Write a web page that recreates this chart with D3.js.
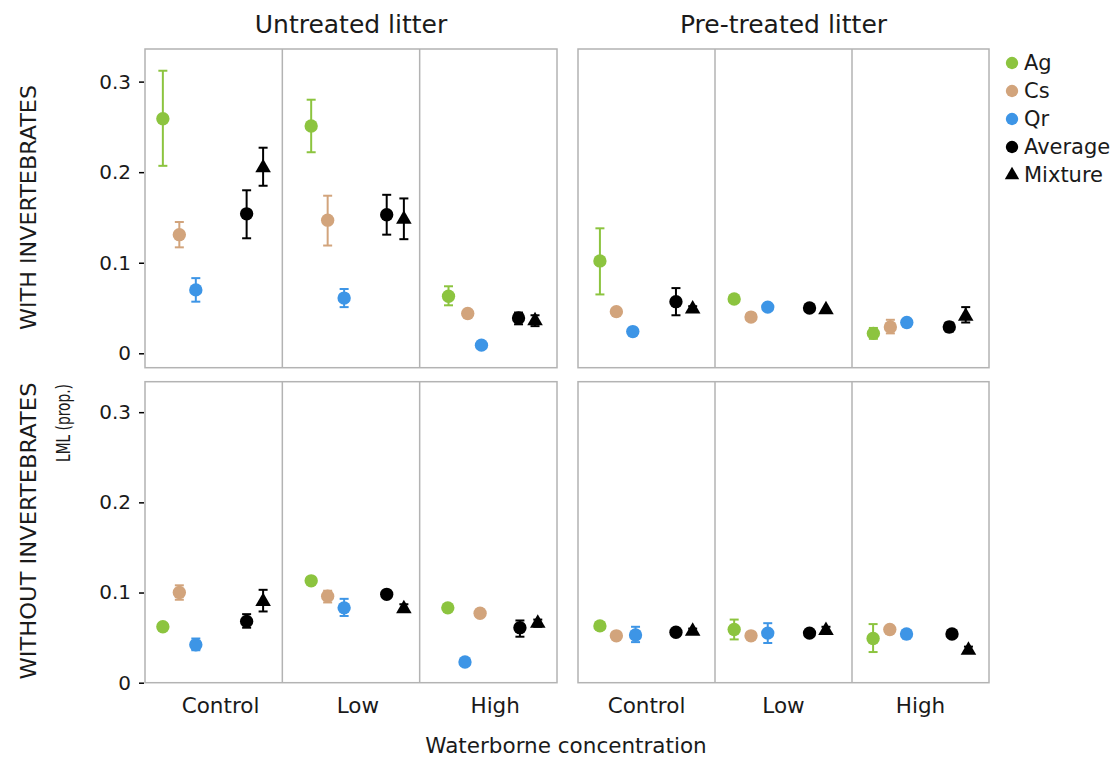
<!DOCTYPE html>
<html>
<head>
<meta charset="utf-8">
<script src="https://cdn.jsdelivr.net/npm/d3@7"></script>
<style>
  body { margin: 0; background: #fff; }
  svg { font-family: "DejaVu Sans", sans-serif; }
</style>
</head>
<body>
<svg width="1116" height="759"></svg>
<script>
// categories and series
const concentrations = ['Control', 'Low', 'High'];
const series = ['Ag', 'Cs', 'Qr', 'Average', 'Mixture'];
const litters = ['Untreated litter', 'Pre-treated litter'];
const rowsLab = ['WITH INVERTEBRATES', 'WITHOUT INVERTEBRATES'];
const yTicks = [0, 0.1, 0.2, 0.3];

// values [series][concentration]  (mean, lower, upper)
const withUntreatedMean = [[0.259, 0.251, 0.063], [0.131, 0.147, 0.044], [0.070, 0.061, 0.009], [0.154, 0.153, 0.039], [0.205, 0.148, 0.036]];
const withUntreatedLo   = [[0.207, 0.222, 0.053], [0.117, 0.119, 0.044], [0.057, 0.051, 0.009], [0.127, 0.131, 0.032], [0.185, 0.126, 0.030]];
const withUntreatedHi   = [[0.312, 0.280, 0.074], [0.145, 0.174, 0.044], [0.083, 0.071, 0.009], [0.180, 0.175, 0.045], [0.227, 0.171, 0.042]];

const withPretreatedMean = [[0.102, 0.060, 0.022], [0.046, 0.040, 0.029], [0.024, 0.051, 0.034], [0.057, 0.050, 0.029], [0.049, 0.048, 0.041]];
const withPretreatedLo   = [[0.065, 0.060, 0.016], [0.046, 0.040, 0.022], [0.024, 0.051, 0.034], [0.042, 0.050, 0.024], [0.046, 0.048, 0.034]];
const withPretreatedHi   = [[0.138, 0.060, 0.028], [0.046, 0.040, 0.037], [0.024, 0.051, 0.034], [0.072, 0.050, 0.034], [0.052, 0.048, 0.051]];

const withoutUntreatedMean = [[0.062, 0.113, 0.083], [0.100, 0.096, 0.077], [0.042, 0.083, 0.023], [0.068, 0.098, 0.061], [0.090, 0.082, 0.066]];
const withoutUntreatedLo   = [[0.062, 0.113, 0.083], [0.092, 0.089, 0.073], [0.036, 0.074, 0.023], [0.061, 0.098, 0.051], [0.079, 0.079, 0.062]];
const withoutUntreatedHi   = [[0.062, 0.113, 0.083], [0.108, 0.102, 0.081], [0.049, 0.093, 0.023], [0.076, 0.098, 0.069], [0.103, 0.087, 0.070]];

const withoutPretreatedMean = [[0.063, 0.059, 0.049], [0.052, 0.052, 0.059], [0.053, 0.055, 0.054], [0.056, 0.055, 0.054], [0.057, 0.058, 0.036]];
const withoutPretreatedLo   = [[0.059, 0.048, 0.034], [0.052, 0.052, 0.056], [0.045, 0.044, 0.049], [0.056, 0.055, 0.054], [0.054, 0.055, 0.033]];
const withoutPretreatedHi   = [[0.067, 0.070, 0.065], [0.052, 0.052, 0.062], [0.062, 0.066, 0.058], [0.056, 0.055, 0.054], [0.060, 0.062, 0.040]];

const panels = [
  { row: 0, col: 0, mean: withUntreatedMean, lo: withUntreatedLo, hi: withUntreatedHi },
  { row: 0, col: 1, mean: withPretreatedMean, lo: withPretreatedLo, hi: withPretreatedHi },
  { row: 1, col: 0, mean: withoutUntreatedMean, lo: withoutUntreatedLo, hi: withoutUntreatedHi },
  { row: 1, col: 1, mean: withoutPretreatedMean, lo: withoutPretreatedLo, hi: withoutPretreatedHi }
];

// layout
const colors = ['#8cc43f', '#d2a47c', '#3d95e6', '#000', '#000'];
const shapes = [d3.symbolCircle, d3.symbolCircle, d3.symbolCircle, d3.symbolCircle, d3.symbolTriangle];
const COLS = [[145, 557], [578, 989]];
const ROWS = [[49, 367.7], [381.7, 682.7]];
const Y_DOMAINS = [[-0.0159, 0.336], [0, 0.3338]];
const LABEL_FRAC = [0.55, 0.5];
// horizontal dodge of each series inside a concentration cell (fraction of cell)
const DODGE = [
  [[[.13, .25, .37, .74, .86], [.21, .33, .45, .76, .885], [.21, .35, .45, .72, .84]],
   [[.16, .28, .40, .715, .837], [.14, .263, .385, .69, .81], [.156, .28, .40, .71, .83]]],
  [[[.13, .25, .37, .74, .86], [.21, .33, .45, .76, .885], [.205, .44, .33, .73, .86]],
   [[.16, .28, .42, .715, .837], [.14, .263, .385, .69, .81], [.154, .276, .398, .73, .85]]]
];
const BORDER = '#b3b3b3';
const TXT = '#1a1a1a';

const svg = d3.select('svg');

const xScales = COLS.map(c => d3.scaleBand().domain(concentrations).range(c).padding(0));
const yScales = ROWS.map((r, i) => d3.scaleLinear().domain(Y_DOMAINS[i]).range([r[1], r[0]]));

// column titles
litters.forEach((t, i) => {
  svg.append('text')
    .attr('x', (COLS[i][0] + COLS[i][1]) / 2)
    .attr('y', 33)
    .attr('text-anchor', 'middle')
    .attr('font-size', 25)
    .attr('fill', TXT)
    .text(t);
});

// row labels and y axis title
const rowCenters = [207.5, 531];
const rowLens = [245, 297];
rowsLab.forEach((t, i) => {
  svg.append('text')
    .attr('transform', `translate(36,${rowCenters[i]}) rotate(-90)`)
    .attr('text-anchor', 'middle')
    .attr('font-size', 22)
    .attr('textLength', rowLens[i])
    .attr('lengthAdjust', 'spacingAndGlyphs')
    .attr('fill', TXT)
    .text(t);
});
svg.append('text')
  .attr('transform', 'translate(70,423) rotate(-90)')
  .attr('text-anchor', 'middle')
  .attr('font-size', 20)
  .attr('textLength', 78)
  .attr('lengthAdjust', 'spacingAndGlyphs')
  .attr('fill', TXT)
  .text('LML (prop.)');

// y axes (left column only)
ROWS.forEach((r, i) => {
  const ax = svg.append('g')
    .attr('transform', `translate(${COLS[0][0] - 1},0)`)
    .call(d3.axisLeft(yScales[i]).tickValues(yTicks).tickSize(5).tickPadding(8)
      .tickFormat(d => d === 0 ? '0' : d3.format('.1f')(d)));
  ax.select('.domain').remove();
  ax.selectAll('.tick line').attr('stroke', '#000').attr('stroke-width', 1.5);
  ax.selectAll('.tick text').attr('font-size', 20).attr('fill', TXT)
    .attr('font-family', '"DejaVu Sans", sans-serif');
});

// x tick labels (bottom row)
COLS.forEach((c, ci) => {
  const xs = xScales[ci];
  concentrations.forEach(k => {
    svg.append('text')
      .attr('x', xs(k) + xs.bandwidth() * LABEL_FRAC[ci])
      .attr('y', 713)
      .attr('text-anchor', 'middle')
      .attr('font-size', 21.5)
      .attr('fill', TXT)
      .text(k);
  });
});

svg.append('text')
  .attr('x', 566)
  .attr('y', 753)
  .attr('text-anchor', 'middle')
  .attr('font-size', 21.5)
  .attr('fill', TXT)
  .text('Waterborne concentration');

// panels
panels.forEach(p => {
  const xs = xScales[p.col];
  const ys = yScales[p.row];
  const g = svg.append('g');

  // cell dividers
  concentrations.slice(1).forEach(k => {
    g.append('line')
      .attr('x1', xs(k)).attr('x2', xs(k))
      .attr('y1', ROWS[p.row][0]).attr('y2', ROWS[p.row][1])
      .attr('stroke', BORDER).attr('stroke-width', 1.5);
  });
  g.append('rect')
    .attr('x', COLS[p.col][0]).attr('y', ROWS[p.row][0])
    .attr('width', COLS[p.col][1] - COLS[p.col][0])
    .attr('height', ROWS[p.row][1] - ROWS[p.row][0])
    .attr('fill', 'none').attr('stroke', BORDER).attr('stroke-width', 1.5);

  series.forEach((s, si) => {
    concentrations.forEach((k, ki) => {
      const x = xs(k) + xs.bandwidth() * DODGE[p.row][p.col][ki][si];
      const lo = p.lo[si][ki], hi = p.hi[si][ki], m = p.mean[si][ki];
      if (hi - lo > 0.0005) {
        const eb = g.append('g').attr('stroke', colors[si]).attr('stroke-width', 2);
        eb.append('line').attr('x1', x).attr('x2', x).attr('y1', ys(lo)).attr('y2', ys(hi));
        eb.append('line').attr('x1', x - 4.5).attr('x2', x + 4.5).attr('y1', ys(lo)).attr('y2', ys(lo));
        eb.append('line').attr('x1', x - 4.5).attr('x2', x + 4.5).attr('y1', ys(hi)).attr('y2', ys(hi));
      }
      const size = shapes[si] === d3.symbolTriangle ? 105 : 140;
      g.append('path')
        .attr('d', d3.symbol().type(shapes[si]).size(size)())
        .attr('transform', `translate(${x},${ys(m)})`)
        .attr('fill', colors[si]);
    });
  });
});

// legend
const legY = [63, 91, 119, 147, 175];
series.forEach((s, i) => {
  const size = shapes[i] === d3.symbolTriangle ? 90 : 120;
  svg.append('path')
    .attr('d', d3.symbol().type(shapes[i]).size(size)())
    .attr('transform', `translate(1012,${legY[i]})`)
    .attr('fill', colors[i]);
  svg.append('text')
    .attr('x', 1024)
    .attr('y', legY[i])
    .attr('dy', '0.35em')
    .attr('font-size', 21)
    .attr('fill', TXT)
    .text(s);
});
</script>
</body>
</html>
